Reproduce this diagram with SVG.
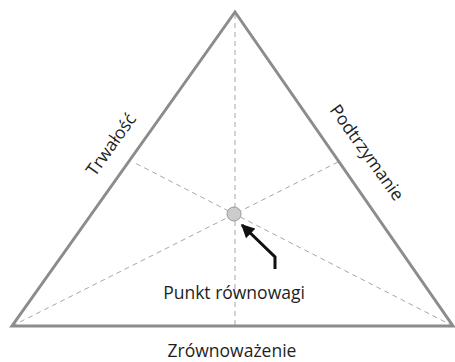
<svg xmlns="http://www.w3.org/2000/svg" width="455" height="362" viewBox="0 0 455 362">
  <style>
    .edge { fill: none; stroke: #8c8c8c; stroke-width: 3; stroke-linejoin: miter; }
    .guide { fill: none; stroke: #a6a6a6; stroke-width: 1; stroke-dasharray: 5 4; }
    .label { font-family: "Open Sans", "Noto Sans", sans-serif; font-size: 17.5px; fill: #1e1e1e; }
  </style>
  <defs>
    <marker id="head" viewBox="0 0 10 10" refX="9" refY="5" markerWidth="4.5" markerHeight="4.5" orient="auto" markerUnits="strokeWidth">
      <path d="M0,0 L10,5 L0,10 Z" fill="#111"/>
    </marker>
  </defs>
  <rect width="455" height="362" fill="#ffffff"/>

  <g id="connectors">
    <!-- dashed guides through the balance point -->
    <line class="guide" x1="235" y1="14" x2="235" y2="326"/>
    <line class="guide" x1="12" y1="326" x2="342" y2="160"/>
    <line class="guide" x1="453" y1="326" x2="135" y2="163"/>
    <!-- pointer to the balance point -->
    <polyline points="275,269 275,257 242,225" fill="none" stroke="#111" stroke-width="3" marker-end="url(#head)"/>
  </g>

  <g id="triangle">
    <polygon class="edge" points="235,12 12,326 453,326"/>
  </g>

  <g id="balance-point">
    <circle cx="234" cy="214" r="7" fill="#cccccc" stroke="#9a9a9a" stroke-width="1"/>
  </g>

  <g id="label-trwalosc">
    <text class="label" transform="translate(116,148) rotate(-54.4)" text-anchor="middle">Trwałość</text>
  </g>
  <g id="label-podtrzymanie">
    <text class="label" transform="translate(362,156) rotate(54.4)" text-anchor="middle">Podtrzymanie</text>
  </g>
  <g id="label-punkt">
    <text class="label" x="234" y="299" text-anchor="middle">Punkt równowagi</text>
  </g>
  <g id="label-zrownowazenie">
    <text class="label" x="232" y="357" text-anchor="middle">Zrównoważenie</text>
  </g>
</svg>
